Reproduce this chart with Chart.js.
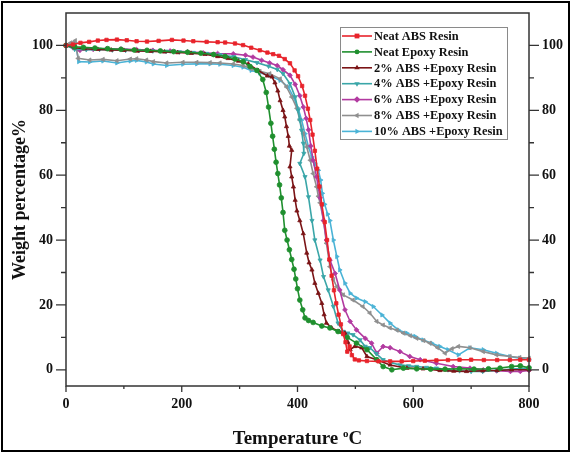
<!DOCTYPE html>
<html>
<head>
<meta charset="utf-8">
<script src="https://cdn.jsdelivr.net/npm/chart.js@4.4.1/dist/chart.umd.min.js"></script>
<style>
  html, body { margin: 0; padding: 0; background: #fff; }
  #wrap { width: 571px; height: 453px; position: relative; }
</style>
</head>
<body>
<div id="wrap"><canvas id="c" width="571" height="453"></canvas></div>
<script>
// Axis ticks
const xTicks = [0, 200, 400, 600, 800];
const yTicks = [0, 20, 40, 60, 80, 100];

// Series labels
const seriesNames = [
  'Neat ABS Resin',
  'Neat Epoxy Resin',
  '2% ABS +Epoxy Resin',
  '4% ABS +Epoxy Resin',
  '6% ABS +Epoxy Resin',
  '8% ABS +Epoxy Resin',
  '10% ABS +Epoxy Resin'
];

// Neat ABS resin: temperature (°C) and weight (%)
const tAbs = [0, 12, 25, 40, 55, 70, 88, 105, 122, 140, 160, 183, 203, 220, 243, 262, 275, 292, 306, 320, 335, 348, 358, 368, 378, 387, 395, 401, 408, 413, 418, 422, 426, 430, 434, 438, 442, 447, 451, 455, 459, 463, 467, 471, 475, 479, 483, 486, 490, 494, 499, 506, 520, 540, 560, 580, 600, 620, 640, 660, 680, 700, 722, 745, 767, 785, 800];
const wAbs = [100, 100.3, 100.8, 101.1, 101.5, 101.7, 101.8, 101.6, 101.3, 101.2, 101.4, 101.7, 101.5, 101.3, 101.1, 101.0, 100.9, 100.6, 100.1, 99.3, 98.5, 97.8, 97.3, 96.8, 95.8, 94.5, 92.3, 90.5, 87.5, 84.5, 80.5, 77, 72.5, 67.5, 62, 56.5, 51, 45.5, 40, 34, 29, 24.5, 20.5, 17, 14, 11, 8.5, 5.6, 7.2, 4.5, 3.2, 2.9, 2.7, 2.6, 2.6, 2.6, 2.7, 2.8, 2.9, 3.0, 3.1, 3.1, 3.0, 3.0, 3.0, 3.1, 3.1];

// Neat epoxy resin
const tEp = [0, 15, 30, 50, 72, 95, 118, 140, 163, 186, 210, 233, 255, 275, 292, 306, 318, 330, 340, 346, 350, 354, 357, 360, 363, 366, 369, 372, 375, 378, 382, 386, 390, 394, 397, 400, 404, 409, 413, 419, 427, 442, 456, 470, 486, 502, 520, 537, 548, 563, 583, 606, 630, 655, 680, 705, 730, 750, 770, 785, 800];
const wEp = [100, 99.6, 99.4, 99.2, 99.0, 98.8, 98.6, 98.5, 98.3, 98.1, 97.9, 97.6, 97.2, 96.6, 95.8, 95.0, 93.5, 92.3, 89.5, 85.5, 81, 76, 72, 68, 64, 60.5, 57, 53, 48.5, 43, 40, 37, 34, 31, 28, 25, 21.5, 18.5, 16, 15.2, 14.6, 13.5, 12.9, 11.8, 10, 8.2, 6.2, 3.1, 1, 0, 0.5, 0.3, 0.2, 0.2, 0.3, 0.2, 0.3, 0.5, 1.0, 1.2, 0.6];

// 2% ABS + epoxy
const t2 = [0, 15, 32, 55, 78, 100, 123, 146, 170, 193, 216, 240, 262, 280, 298, 315, 332, 348, 356, 361, 366, 370, 375, 378, 381, 384, 386, 390, 387, 390, 393, 396, 399, 404, 410, 416, 420, 425, 430, 436, 442, 446, 450, 459, 472, 482, 487, 491, 499, 511, 520, 537, 560, 589, 617, 646, 670, 692, 720, 745, 770, 800];
const w2 = [100, 99.3, 99.0, 98.8, 98.6, 98.5, 98.3, 98.2, 98.0, 97.8, 97.6, 97.3, 96.6, 96.0, 95.2, 94.3, 92.3, 90.6, 90.3, 88.5, 86, 83, 80, 78, 75, 72, 69, 67.7, 62.6, 59.5, 56.4, 52.3, 49, 46, 42, 36, 33, 30.8, 26.7, 23.6, 20.5, 17, 14.4, 12.9, 11.8, 11.3, 8.5, 6.2, 7.2, 6.8, 4.1, 3.1, 1.5, 0.5, 0.3, -0.2, -0.4, -0.5, -0.3, -0.2, 0, 0];

// 4% ABS + epoxy
const t4 = [0, 15, 35, 58, 80, 103, 126, 150, 173, 196, 220, 243, 266, 290, 310, 330, 350, 365, 375, 387, 396, 401, 404, 407, 410, 411, 404, 413, 419, 425, 430, 439, 445, 453, 462, 470, 479, 487, 496, 508, 517, 525, 536, 548, 562, 577, 592, 606, 623, 640, 660, 680, 700, 720, 745, 770, 800];
const w4 = [100, 98.8, 98.7, 98.8, 98.6, 98.5, 98.4, 98.3, 98.2, 98.0, 97.8, 97.5, 97.1, 96.5, 95.6, 94.7, 93.6, 92.6, 91.3, 88.2, 84.1, 80, 77, 73.8, 69.8, 66.7, 63.6, 59.5, 53.3, 46, 40, 33.8, 28.7, 24.6, 19.5, 14.4, 11.8, 11.3, 10.8, 9.2, 7.2, 6.8, 5, 3.1, 2.2, 1.5, 1.2, 1, 0.7, 0.5, 0, -0.3, -0.5, -0.5, -0.2, 0.2, 0.5];

// 6% ABS + epoxy
const t6 = [0, 12, 24, 47, 70, 95, 122, 150, 180, 210, 237, 262, 289, 310, 323, 338, 352, 365, 375, 387, 396, 404, 410, 415, 419, 423, 427, 433, 439, 445, 450, 456, 465, 473, 482, 491, 502, 517, 528, 537, 548, 560, 577, 594, 612, 640, 669, 698, 721, 744, 768, 785, 800];
const w6 = [100, 99.3, 98.5, 98.8, 99.0, 98.9, 98.7, 98.5, 98.3, 98.0, 97.7, 97.5, 97.4, 97.0, 96.4, 95.4, 94.6, 93.8, 92.5, 90.8, 88, 84.5, 81, 77.5, 74, 69, 64.6, 59.5, 53, 46, 40, 33.8, 29.7, 24.6, 18.5, 14.9, 12.3, 9.7, 8.2, 5.1, 7.2, 6.8, 5.6, 4.1, 3.1, 2, 1, 0.5, 0, -0.3, -0.5, -0.5, -0.2];

// 8% ABS + epoxy
const t8 = [0, 8, 16, 21, 41, 64, 88, 111, 122, 139, 151, 174, 202, 226, 249, 266, 289, 306, 320, 335, 352, 370, 381, 390, 399, 404, 410, 416, 422, 427, 433, 436, 439, 445, 450, 456, 462, 468, 479, 496, 513, 525, 537, 548, 560, 572, 583, 595, 606, 618, 629, 642, 655, 667, 678, 698, 721, 744, 767, 784, 800];
const w8 = [100, 100.8, 101.5, 96, 95.5, 95.7, 95.3, 95.8, 95.9, 95.5, 95.0, 94.6, 94.8, 94.8, 94.7, 94.6, 94.3, 93.8, 92.8, 92.0, 91.3, 89.7, 87.2, 84.1, 80.6, 77, 72.8, 68.7, 64.6, 60.5, 56.4, 53.5, 51.5, 46, 39, 31.8, 27.8, 25.6, 23.1, 21.5, 19.5, 17.5, 14.9, 13.8, 12.9, 12.2, 11.3, 10.5, 9.7, 9.0, 8.2, 6.8, 5.1, 6.5, 7.2, 6.8, 5.6, 4.6, 4.1, 3.8, 3.6];

// 10% ABS + epoxy
const t10 = [0, 8, 16, 22, 41, 64, 88, 111, 122, 139, 151, 174, 202, 226, 249, 266, 289, 306, 320, 335, 352, 370, 384, 393, 401, 407, 413, 419, 425, 430, 436, 440, 443, 447, 452, 456, 462, 468, 473, 482, 491, 502, 517, 531, 546, 560, 574, 589, 603, 617, 632, 646, 660, 678, 698, 721, 744, 767, 784, 800];
const w10 = [100, 100.3, 100.8, 95.0, 94.9, 95.2, 94.6, 95.2, 95.4, 94.9, 94.3, 93.8, 94.2, 94.3, 94.3, 94.2, 93.8, 93.3, 92.3, 91.5, 90.8, 89.2, 87.2, 84.1, 80.6, 77, 72.8, 68.7, 65.6, 63.6, 61.5, 58.5, 54.4, 51, 48, 46, 40, 34.9, 30.8, 26.7, 23.6, 22.1, 21, 19.5, 16.9, 14.4, 12.3, 11.3, 10.3, 9.2, 8.2, 7.2, 6.2, 4.6, 6.8, 6.2, 5.1, 4.1, 3.6, 3.1];

const temps = [tAbs, tEp, t2, t4, t6, t8, t10];
const weights = [wAbs, wEp, w2, w4, w6, w8, w10];
const colors = ['#e8232b', '#1f8f2e', '#7b1416', '#3aa6a8', '#b23aa0', '#8f8f8f', '#4ab3d6'];
const markers = [
  { style: 'rect', rot: 0 },
  { style: 'circle', rot: 0 },
  { style: 'triangle', rot: 0 },
  { style: 'triangle', rot: 180 },
  { style: 'rectRot', rot: 0 },
  { style: 'triangle', rot: -90 },
  { style: 'triangle', rot: 90 }
];

const SERIF = '"Liberation Serif", "Times New Roman", serif';
const INK = '#111';
const AXIS = '#333';

const datasets = seriesNames.map((name, i) => ({
  label: name,
  data: temps[i].map((t, k) => ({ x: t, y: weights[i][k] })),
  borderColor: colors[i],
  backgroundColor: colors[i],
  borderWidth: 1.6,
  pointStyle: markers[i].style,
  pointRotation: markers[i].rot,
  pointRadius: 2.4,
  pointBorderWidth: 0.8,
  tension: 0,
  clip: false
}));

// Small marker used in the legend
function drawMarker(ctx, m, x, y, r) {
  ctx.beginPath();
  if (m.style === 'rect') {
    ctx.rect(x - r, y - r, 2 * r, 2 * r);
  } else if (m.style === 'circle') {
    ctx.arc(x, y, r, 0, Math.PI * 2);
  } else if (m.style === 'rectRot') {
    const d = r * 1.35;
    ctx.moveTo(x, y - d); ctx.lineTo(x + d, y); ctx.lineTo(x, y + d); ctx.lineTo(x - d, y);
    ctx.closePath();
  } else {
    const rr = r * 1.3;
    const base = (m.rot - 90) * Math.PI / 180;
    for (let k = 0; k < 3; k++) {
      const a = base + k * 2 * Math.PI / 3;
      const px = x + rr * Math.cos(a), py = y + rr * Math.sin(a);
      if (k === 0) ctx.moveTo(px, py); else ctx.lineTo(px, py);
    }
    ctx.closePath();
  }
  ctx.fill();
}

const decor = {
  id: 'decor',
  beforeDraw(chart) {
    const ctx = chart.ctx;
    ctx.save();
    ctx.fillStyle = '#fff';
    ctx.fillRect(0, 0, chart.width, chart.height);
    ctx.restore();
  },
  afterDraw(chart) {
    const ctx = chart.ctx;
    const a = chart.chartArea;
    const sx = chart.scales.x, sy = chart.scales.y;
    ctx.save();

    // plot frame
    ctx.strokeStyle = AXIS;
    ctx.lineWidth = 1.5;
    ctx.strokeRect(a.left, a.top, a.right - a.left, a.bottom - a.top);

    // tick marks: majors at labelled values, minors halfway between
    ctx.lineWidth = 1.3;
    const xMinor = xTicks.slice(1).map((v, i) => (v + xTicks[i]) / 2);
    const yMinor = yTicks.slice(1).map((v, i) => (v + yTicks[i]) / 2);
    ctx.beginPath();
    xTicks.forEach(v => { const p = sx.getPixelForValue(v); ctx.moveTo(p, a.bottom); ctx.lineTo(p, a.bottom + 6); });
    xMinor.forEach(v => { const p = sx.getPixelForValue(v); ctx.moveTo(p, a.bottom); ctx.lineTo(p, a.bottom + 3); });
    yTicks.forEach(v => {
      const p = sy.getPixelForValue(v);
      ctx.moveTo(a.left, p); ctx.lineTo(a.left - 10, p);
      ctx.moveTo(a.right, p); ctx.lineTo(a.right + 10, p);
    });
    yMinor.forEach(v => {
      const p = sy.getPixelForValue(v);
      ctx.moveTo(a.left, p); ctx.lineTo(a.left - 5, p);
      ctx.moveTo(a.right, p); ctx.lineTo(a.right + 5, p);
    });
    ctx.stroke();

    // axis titles
    ctx.fillStyle = INK;
    const big = 'bold 19px ' + SERIF, small = 'bold 11px ' + SERIF;
    ctx.font = big;
    const p1 = 'Temperature ', p3 = 'C';
    const w1 = ctx.measureText(p1).width, w3 = ctx.measureText(p3).width;
    ctx.font = small;
    const w2 = ctx.measureText('o').width;
    const cx = (a.left + a.right) / 2;
    let x0 = cx - (w1 + w2 + w3) / 2;
    const base = 444;
    ctx.textBaseline = 'alphabetic';
    ctx.textAlign = 'left';
    ctx.font = big; ctx.fillText(p1, x0, base);
    ctx.font = small; ctx.fillText('o', x0 + w1, base - 7);
    ctx.font = big; ctx.fillText(p3, x0 + w1 + w2, base);

    ctx.save();
    ctx.translate(20, (a.top + a.bottom) / 2);
    ctx.rotate(-Math.PI / 2);
    ctx.textAlign = 'center';
    ctx.textBaseline = 'middle';
    ctx.font = 'bold 18px ' + SERIF;
    ctx.fillText('Weight percentage%', 0, 0);
    ctx.restore();

    // legend box
    const lx = 340.5, ly = 27.5, lw = 167, lh = 112;
    ctx.strokeStyle = '#8a8a8a';
    ctx.lineWidth = 1;
    ctx.strokeRect(lx, ly, lw, lh);
    ctx.font = 'bold 12.4px ' + SERIF;
    ctx.textAlign = 'left';
    ctx.textBaseline = 'middle';
    chart.data.datasets.forEach((ds, i) => {
      const y = 36 + i * 15.9;
      ctx.strokeStyle = ds.borderColor;
      ctx.lineWidth = 1.6;
      ctx.beginPath(); ctx.moveTo(342, y); ctx.lineTo(372, y); ctx.stroke();
      ctx.fillStyle = ds.borderColor;
      drawMarker(ctx, markers[i], 357, y, 2.4);
      ctx.fillStyle = INK;
      ctx.fillText(ds.label, 374, y + 0.5);
    });

    // outer frame
    ctx.strokeStyle = '#000';
    ctx.lineWidth = 2;
    ctx.strokeRect(2, 2, 567, 449);
    ctx.restore();
  }
};

const tickFont = { family: SERIF, size: 14, weight: 'bold' };
const noGrid = { display: false, drawTicks: false };

// vertical axes keep no extra label overhang so the plot spans the fixed box
function fixVertical(width) {
  return s => { s.width = width; s.paddingTop = 0; s.paddingBottom = 0; };
}

new Chart(document.getElementById('c'), {
  type: 'line',
  data: { datasets },
  options: {
    responsive: false,
    animation: false,
    devicePixelRatio: 1,
    layout: { padding: { top: 13, left: 0, right: 0, bottom: 0 } },
    plugins: { legend: { display: false }, tooltip: { enabled: false } },
    scales: {
      x: {
        type: 'linear', position: 'bottom', min: 0, max: 800,
        grid: noGrid, border: { display: false },
        ticks: { font: tickFont, color: INK, padding: 10, maxRotation: 0 },
        afterBuildTicks: s => { s.ticks = xTicks.map(v => ({ value: v })); },
        afterFit: s => { s.height = 67; }
      },
      y: {
        type: 'linear', position: 'left', min: -5, max: 110,
        grid: noGrid, border: { display: false },
        ticks: { font: tickFont, color: INK, padding: 13 },
        afterBuildTicks: s => { s.ticks = yTicks.map(v => ({ value: v })); },
        afterFit: fixVertical(66)
      },
      y2: {
        type: 'linear', position: 'right', min: -5, max: 110,
        grid: noGrid, border: { display: false },
        ticks: { font: tickFont, color: INK, padding: 13 },
        afterBuildTicks: s => { s.ticks = yTicks.map(v => ({ value: v })); },
        afterFit: fixVertical(42)
      }
    }
  },
  plugins: [decor]
});
</script>
</body>
</html>
